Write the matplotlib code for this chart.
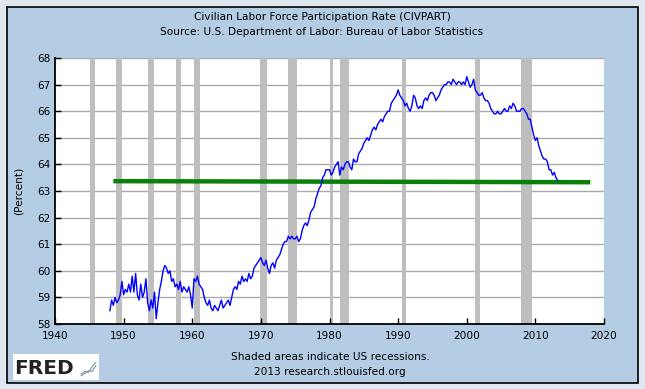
import numpy as np
import matplotlib
matplotlib.use("Agg")
import matplotlib.pyplot as plt
from matplotlib.patches import Rectangle

# quarterly readings of CIVPART, 1948Q1 onwards (percent)
civpart = [
    58.5, 58.9, 58.7, 59.0,   # 1948
    58.8, 58.9, 59.1, 59.6,   # 1949
    59.1, 59.3, 59.2, 59.5,   # 1950
    59.2, 59.8, 59.2, 59.9,   # 1951
    59.1, 58.9, 59.5, 59.0,   # 1952
    59.2, 59.7, 58.8, 58.5,   # 1953
    58.9, 58.6, 59.2, 58.2,   # 1954
    58.8, 59.3, 59.6, 60.0,   # 1955
    60.2, 60.1, 59.9, 60.0,   # 1956
    59.6, 59.7, 59.4, 59.5,   # 1957
    59.3, 59.6, 59.2, 59.4,   # 1958
    59.3, 59.2, 59.4, 59.1,   # 1959
    58.6, 59.7, 59.6, 59.8,   # 1960
    59.5, 59.4, 59.3, 59.0,   # 1961
    58.8, 58.7, 58.9, 58.6,   # 1962
    58.5, 58.7, 58.6, 58.5,   # 1963
    58.7, 58.9, 58.6, 58.7,   # 1964
    58.8, 58.9, 58.7, 59.0,   # 1965
    59.3, 59.4, 59.3, 59.6,   # 1966
    59.5, 59.8, 59.6, 59.7,   # 1967
    59.6, 59.9, 59.7, 59.8,   # 1968
    60.1, 60.2, 60.3, 60.4,   # 1969
    60.5, 60.3, 60.2, 60.4,   # 1970
    60.1, 59.9, 60.2, 60.3,   # 1971
    60.1, 60.4, 60.5, 60.6,   # 1972
    60.8, 61.0, 61.1, 61.1,   # 1973
    61.3, 61.2, 61.3, 61.2,   # 1974
    61.2, 61.3, 61.1, 61.2,   # 1975
    61.5, 61.7, 61.8, 61.7,   # 1976
    61.9, 62.2, 62.3, 62.4,   # 1977
    62.7, 62.9, 63.1, 63.2,   # 1978
    63.5, 63.6, 63.8, 63.8,   # 1979
    63.8, 63.6, 63.7, 63.9,   # 1980
    64.0, 64.1, 63.6, 63.9,   # 1981
    63.8, 64.0, 64.1, 64.1,   # 1982
    63.9, 63.8, 64.2, 64.1,   # 1983
    64.1, 64.4, 64.5, 64.6,   # 1984
    64.8, 64.9, 65.0, 64.9,   # 1985
    65.1, 65.3, 65.4, 65.3,   # 1986
    65.5, 65.6, 65.7, 65.6,   # 1987
    65.8, 65.9, 66.0, 66.0,   # 1988
    66.3, 66.4, 66.5, 66.6,   # 1989
    66.8, 66.6, 66.5, 66.4,   # 1990
    66.2, 66.3, 66.1, 66.0,   # 1991
    66.2, 66.6, 66.5, 66.2,   # 1992
    66.1, 66.2, 66.1, 66.4,   # 1993
    66.5, 66.4, 66.6, 66.7,   # 1994
    66.7, 66.6, 66.4, 66.5,   # 1995
    66.6, 66.8, 66.9, 67.0,   # 1996
    67.0, 67.1, 67.1, 67.0,   # 1997
    67.2, 67.1, 67.0, 67.1,   # 1998
    67.1, 67.0, 67.1, 67.0,   # 1999
    67.3, 67.1, 66.9, 67.0,   # 2000
    67.2, 66.8, 66.7, 66.6,   # 2001
    66.6, 66.7, 66.5, 66.4,   # 2002
    66.4, 66.3, 66.1, 66.0,   # 2003
    65.9, 65.9, 66.0, 65.9,   # 2004
    65.9, 66.0, 66.1, 66.0,   # 2005
    66.0, 66.2, 66.1, 66.3,   # 2006
    66.2, 66.0, 66.0, 66.0,   # 2007
    66.1, 66.1, 66.0, 65.9,   # 2008
    65.7, 65.7, 65.4, 65.1,   # 2009
    64.9, 65.0, 64.7, 64.5,   # 2010
    64.3, 64.2, 64.2, 64.1,   # 2011
    63.8, 63.8, 63.6, 63.7,   # 2012
    63.5, 63.4,               # 2013
]
START_YEAR = 1948

# flat reference line (green)
avg_years = [1948.5, 2018.0]
avg_values = [63.37, 63.33]

# NBER recessions, (start, end) as fractional years
recessions = [
    (1945.1, 1945.8), (1948.9, 1949.8), (1953.5, 1954.4), (1957.6, 1958.3),
    (1960.3, 1961.1), (1969.9, 1970.9), (1973.9, 1975.2), (1980.0, 1980.5),
    (1981.5, 1982.9), (1990.5, 1991.2), (2001.2, 2001.9), (2007.9, 2009.5),
]

x_ticks = list(range(1940, 2021, 10))
y_ticks = list(range(58, 69))

OUTER = "#dfe7ef"
PANEL = "#b4cde4"
W, H = 645, 389
FS = 7.6

fig = plt.figure(figsize=(W / 100, H / 100), dpi=100, facecolor=OUTER)
fig.patches.append(Rectangle((7 / W, 1 - 383 / H), 631 / W, 376 / H, transform=fig.transFigure,
                             facecolor=PANEL, edgecolor="black", linewidth=1.2, zorder=-5))

ax = fig.add_axes([55 / W, 1 - 324 / H, 549 / W, 266 / H])
ax.set_zorder(1)
ax.set_facecolor("white")

for a, b in recessions:
    ax.axvspan(a, b, color="#bebebe", lw=0, zorder=1)

for v in y_ticks[1:]:
    ax.axhline(v, color="#aaaaaa", lw=1.0, zorder=0.5)

years = START_YEAR + np.arange(len(civpart)) / 4.0
ax.plot(avg_years, avg_values, color="#0a800a", lw=3.2, solid_capstyle="butt", zorder=2)
ax.plot(years, civpart, color="#0000ff", lw=1.0, zorder=3)

ax.set_xlim(1940, 2020)
ax.set_ylim(58, 68)
ax.set_xticks(x_ticks)
ax.set_yticks(y_ticks)
ax.tick_params(direction="in", length=4, width=1, colors="black", labelsize=FS, pad=3)
ax.tick_params(axis="x", pad=5)
ax.spines["top"].set_visible(False)
ax.spines["right"].set_visible(False)
ax.spines["left"].set_linewidth(1.3)
ax.spines["bottom"].set_linewidth(1.3)
ax.set_ylabel("(Percent)", fontsize=FS, labelpad=10)

fig.text(322 / W, 1 - 17 / H, "Civilian Labor Force Participation Rate (CIVPART)",
         ha="center", va="center", fontsize=FS)
fig.text(322 / W, 1 - 32 / H, "Source: U.S. Department of Labor: Bureau of Labor Statistics",
         ha="center", va="center", fontsize=FS)
fig.text(330 / W, 1 - 357 / H, "Shaded areas indicate US recessions.",
         ha="center", va="center", fontsize=FS)
fig.text(330 / W, 1 - 372 / H, "2013 research.stlouisfed.org",
         ha="center", va="center", fontsize=FS)

# FRED logo
fig.patches.append(Rectangle((13 / W, 1 - 380 / H), 86 / W, 26 / H, transform=fig.transFigure,
                             facecolor="white", edgecolor="none", zorder=-1))
fig.text(14 / W, 1 - 368 / H, "FRED", ha="left", va="center", fontsize=14.5,
         fontweight="heavy", color="#222222", family="DejaVu Sans")
icon = fig.add_axes([80 / W, 1 - 378 / H, 17 / W, 18 / H])
icon.set_zorder(2)
icon.plot([0, 1, 2, 3, 4], [0.5, 1.0, 0.8, 1.8, 2.6], color="#7aa36a", lw=0.8)
icon.plot([0, 1, 2, 3, 4], [0.2, 0.6, 1.1, 1.0, 2.0], color="#6f8fc8", lw=0.8)
icon.set_xlim(-0.3, 4.3)
icon.set_ylim(-0.2, 3)
icon.axis("off")

fig.savefig("out.png", dpi=100, facecolor=OUTER)
